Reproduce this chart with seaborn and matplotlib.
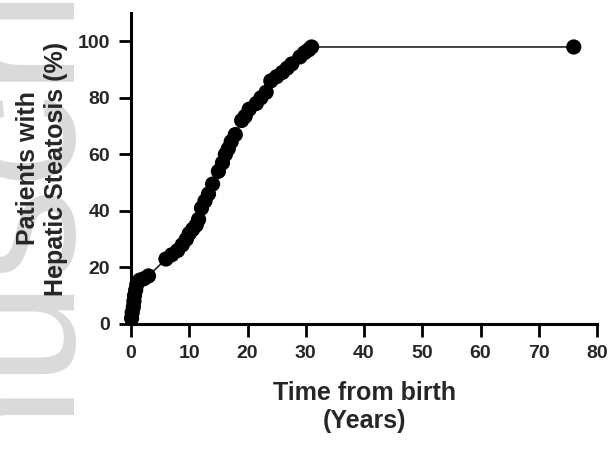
import matplotlib
matplotlib.use("Agg")
import matplotlib.pyplot as plt
import seaborn as sns
import pandas as pd

# Data (time in years, cumulative % with hepatic steatosis)
years = [0.1, 0.2, 0.4, 0.5, 0.6, 0.8, 1.0, 1.5, 2.2, 3.0,
         6.0, 7.0, 8.0, 8.8, 9.5, 10.0, 10.6, 11.2, 11.6,
         12.1, 12.7, 13.3, 14.0, 15.0, 15.7, 16.2, 16.7, 17.2, 17.9,
         19.0, 19.6, 20.3, 21.5, 22.3, 23.2, 24.0, 25.0, 26.0, 26.8,
         27.6, 29.0, 29.8, 30.5, 31.0, 76.0]
percent = [2, 4, 6, 8, 10, 12, 14, 15.5, 16, 17,
           23, 24.5, 26, 28, 30, 32, 33.5, 35, 37,
           41, 43.5, 46, 49.5, 54, 57, 60, 62, 64.5, 67,
           72, 73.5, 76, 78, 80, 82, 86, 87.5, 89, 90.5,
           92, 94.5, 96, 97, 98, 98]
x_ticks = [0, 10, 20, 30, 40, 50, 60, 70, 80]
y_ticks = [0, 20, 40, 60, 80, 100]

df = pd.DataFrame({"years": years, "percent": percent})

sns.set_style("ticks")
plt.rcParams["font.family"] = ["Liberation Sans", "DejaVu Sans"]
plt.rcParams["font.weight"] = "bold"

fig = plt.figure(figsize=(6.13, 4.5), dpi=100)
ax = fig.add_axes([0.2137, 0.28, 0.974 - 0.2137, 0.971 - 0.28])

# watermark
fig.text(60 / 613, -0.631, "Manuscript", rotation=90, rotation_mode="anchor",
         ha="left", va="baseline", fontsize=135, color="#dadada",
         fontweight="normal", zorder=-1)

sns.lineplot(data=df, x="years", y="percent", ax=ax, sort=False, estimator=None,
             color="#222222", linewidth=1.2, zorder=2)
sns.scatterplot(data=df, x="years", y="percent", ax=ax, color="black", s=120,
                edgecolor="none", linewidth=0, zorder=3, clip_on=False)

ax.set_xlim(0, 80)
ax.set_ylim(0, 110)
ax.set_xticks(x_ticks)
ax.set_yticks(y_ticks)
ax.set_xticklabels([str(t) for t in x_ticks], fontsize=14, fontweight="bold")
ax.set_yticklabels([str(t) for t in y_ticks], fontsize=14, fontweight="bold")
ax.tick_params(axis="both", length=9, width=2, pad=6, color="black")
for s in ["left", "bottom"]:
    ax.spines[s].set_linewidth(2.2)
    ax.spines[s].set_color("black")
sns.despine(ax=ax)

ax.set_xlabel("Time from birth\n(Years)", fontsize=18, fontweight="bold", labelpad=14)
ax.set_ylabel("Patients with\nHepatic Steatosis (%)", fontsize=18, fontweight="bold", labelpad=7)
ax.patch.set_alpha(0)

fig.savefig("out.png", dpi=100)
